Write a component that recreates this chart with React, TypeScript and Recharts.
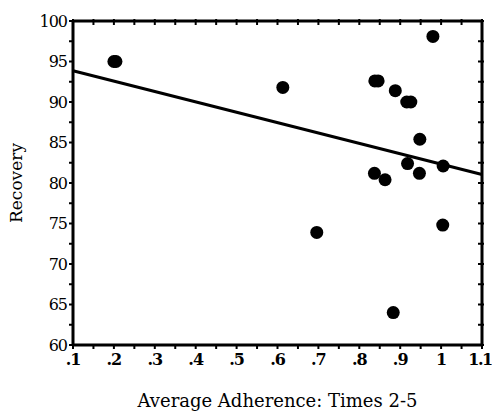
import { ScatterChart, Scatter, XAxis, YAxis, Customized } from 'recharts'

// values
const adherence = [0.2, 0.205, 0.613, 0.838, 0.846, 0.888, 0.916, 0.926, 0.98, 0.948, 0.918, 1.005, 0.947, 0.837, 0.863, 0.696, 1.004, 0.883]
const recovery = [95.0, 95.0, 91.8, 92.6, 92.6, 91.4, 90.0, 90.0, 98.1, 85.4, 82.4, 82.1, 81.2, 81.2, 80.4, 73.9, 74.8, 64.0]

const fitX = [0.1, 1.1]
const fitY = [93.85, 81.05]

const xTicks = [0.1, 0.15, 0.2, 0.25, 0.3, 0.35, 0.4, 0.45, 0.5, 0.55, 0.6, 0.65, 0.7, 0.75, 0.8, 0.85, 0.9, 0.95, 1.0, 1.05, 1.1]
const xLabels = ['.1', '', '.2', '', '.3', '', '.4', '', '.5', '', '.6', '', '.7', '', '.8', '', '.9', '', '1', '', '1.1']
const yTicks = [60, 62.5, 65, 67.5, 70, 72.5, 75, 77.5, 80, 82.5, 85, 87.5, 90, 92.5, 95, 97.5, 100]

const points = adherence.map((x, i) => ({ x, y: recovery[i] }))
const fit = fitX.map((x, i) => ({ x, y: fitY[i] }))

const font = 'DejaVu Serif'
const fmtY = (v: number) => (v % 5 === 0 ? String(v) : '')
const tickLine = { stroke: '#000', strokeWidth: 2 }

const XTick = (p: any) => {
  const v = p.payload.value
  const i = xTicks.findIndex(t => Math.abs(t - v) < 1e-6)
  const txt = i >= 0 ? xLabels[i] : ''
  if (!txt) return <g />
  const last = i === xTicks.length - 1
  return (
    <text x={p.x + (last ? -2 : 0)} y={p.y + 14} textAnchor="middle" fill="#000"
      fontFamily={font} fontSize={16} fontWeight="bold" letterSpacing={last ? -1.5 : -1}>
      {txt}
    </text>
  )
}

// plain tick stubs for the top and right frame edges (no labels)
const TopTick = (p: any) => (
  <line x1={p.x} x2={p.x} y1={p.y + 4} y2={p.y - 2} stroke="#000" strokeWidth={2} />
)
const RightTick = (p: any) => (
  <line x1={p.x - 4} x2={p.x + 2} y1={p.y} y2={p.y} stroke="#000" strokeWidth={2} />
)

export default function App() {
  return (
    <div style={{ position: 'absolute', left: 0, top: 0, background: '#fff' }}>
      <ScatterChart width={492} height={417} margin={{ top: 12, right: 2, left: 0, bottom: 0 }}>
        <XAxis
          xAxisId="b"
          type="number"
          dataKey="x"
          domain={[0.1, 1.1]}
          ticks={xTicks}
          interval={0}
          stroke="#000"
          strokeWidth={3}
          tickLine={tickLine}
          tickSize={4}
          height={72}
          tick={<XTick />}
          label={{ value: 'Average Adherence: Times 2-5', position: 'insideBottom', offset: 10, fill: '#000', fontFamily: font, fontSize: 18 }}
        />
        <XAxis
          xAxisId="t"
          orientation="top"
          type="number"
          dataKey="x"
          domain={[0.1, 1.1]}
          ticks={xTicks}
          interval={0}
          stroke="#000"
          strokeWidth={3}
          tickLine={false}
          tickSize={0}
          tickMargin={0}
          tick={<TopTick />}
          height={9}
        />
        <YAxis
          yAxisId="l"
          type="number"
          dataKey="y"
          domain={[60, 100]}
          ticks={yTicks}
          tickFormatter={fmtY}
          interval={0}
          stroke="#000"
          strokeWidth={3}
          tickLine={tickLine}
          tickSize={4}
          width={73}
          tick={{ fill: '#000', fontFamily: font, fontSize: 16, letterSpacing: -1 }}
          label={{ value: 'Recovery', angle: -90, position: 'insideLeft', offset: 16, fill: '#000', fontFamily: font, fontSize: 17, style: { textAnchor: 'middle' } }}
        />
        <YAxis
          yAxisId="r"
          orientation="right"
          type="number"
          dataKey="y"
          domain={[60, 100]}
          ticks={yTicks}
          interval={0}
          stroke="#000"
          strokeWidth={3}
          tickLine={false}
          tickSize={0}
          tickMargin={0}
          tick={<RightTick />}
          width={8}
        />
        <Scatter
          xAxisId="t"
          yAxisId="r"
          data={points}
          shape={() => <g />}
          isAnimationActive={false}
        />
        <Scatter
          xAxisId="b"
          yAxisId="l"
          data={fit}
          line={{ stroke: '#000', strokeWidth: 3 }}
          shape={() => <g />}
          isAnimationActive={false}
        />
        <Scatter
          xAxisId="b"
          yAxisId="l"
          data={points}
          fill="#000"
          shape={(p: any) => <circle cx={p.cx} cy={p.cy} r={6.5} fill="#000" />}
          isAnimationActive={false}
        />
      </ScatterChart>
    </div>
  )
}
